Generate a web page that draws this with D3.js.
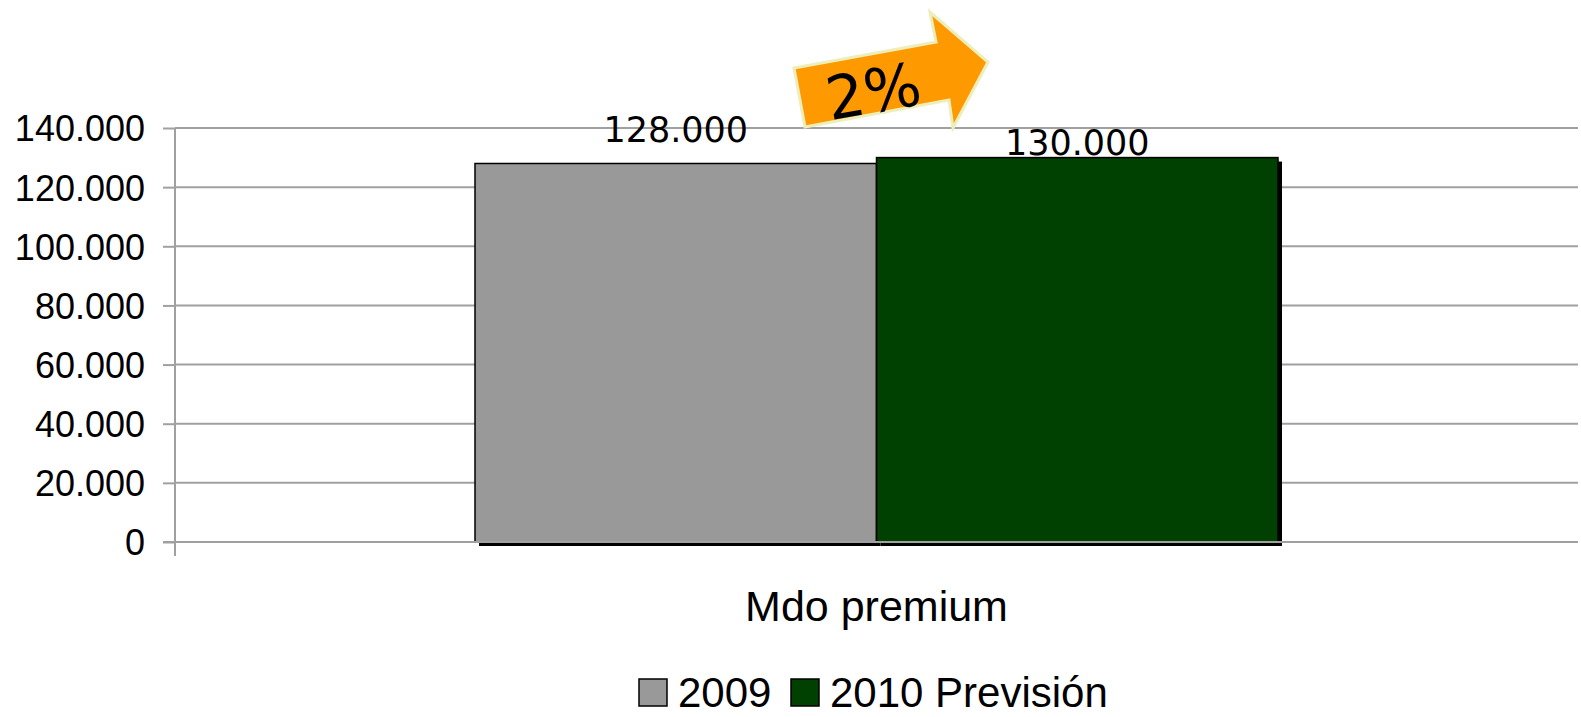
<!DOCTYPE html>
<html>
<head>
<meta charset="utf-8">
<script src="https://d3js.org/d3.v7.min.js"></script>
<style>
  html, body { margin: 0; padding: 0; background: #fff; overflow: hidden; }
  svg { display: block; }
</style>
</head>
<body>
<div id="chart"></div>
<script>

// data
var categories = ["Mdo premium"];
var seriesNames = ["2009", "2010 Previsión"];
var seriesColors = ["#999999", "#004000"];
var values2009 = [128000];
var values2010 = [130000];
var yTicks = [0, 20000, 40000, 60000, 80000, 100000, 120000, 140000];
var growthLabel = "2%";

var width = 1581, height = 717;
var plotLeft = 175, plotRight = 1578, plotTop = 128, plotBottom = 542;

var fmt = function (d) { return d3.format(",")(d).replace(/,/g, "."); };

var svg = d3.select("#chart").append("svg")
    .attr("width", width)
    .attr("height", height);

var y = d3.scaleLinear().domain([0, 140000]).range([plotBottom, plotTop]);
var x0 = d3.scaleBand().domain(categories).range([plotLeft, plotRight]).paddingInner(0).paddingOuter(0.3736);
var x1 = d3.scaleBand().domain(seriesNames).range([0, x0.bandwidth()]);

// gridlines
svg.append("g").selectAll("line")
    .data(yTicks)
    .enter().append("line")
    .attr("x1", plotLeft).attr("x2", plotRight)
    .attr("y1", function (d) { return y(d); })
    .attr("y2", function (d) { return y(d); })
    .attr("stroke", "#a0a0a0")
    .attr("stroke-width", 2);

// y axis
var yAxis = d3.axisLeft(y).tickValues(yTicks).tickFormat(fmt).tickSize(12).tickPadding(18);
var gy = svg.append("g")
    .attr("transform", "translate(" + plotLeft + ",0)")
    .call(yAxis);
gy.select(".domain").remove();
gy.selectAll(".tick line").attr("stroke", "#a0a0a0").attr("stroke-width", 2);
gy.selectAll(".tick text")
    .attr("font-family", "Liberation Sans, Arial, sans-serif")
    .attr("font-size", "36px")
    .attr("dy", "0.36em")
    .attr("fill", "#000");
svg.append("line")
    .attr("x1", plotLeft).attr("x2", plotLeft)
    .attr("y1", plotTop).attr("y2", plotBottom + 14)
    .attr("stroke", "#a0a0a0").attr("stroke-width", 2);

// bars
var rows = categories.map(function (c, i) {
  return { cat: c, vals: [values2009[i], values2010[i]] };
});

var groups = svg.selectAll(".grp")
    .data(rows)
    .enter().append("g")
    .attr("class", "grp")
    .attr("transform", function (d) { return "translate(" + x0(d.cat) + ",0)"; });

var barData = function (d) {
  return d.vals.map(function (v, j) { return { name: seriesNames[j], value: v, color: seriesColors[j] }; });
};

// shadows
groups.selectAll(".shadow")
    .data(barData)
    .enter().append("rect")
    .attr("class", "shadow")
    .attr("x", function (d) { return x1(d.name) + 4; })
    .attr("y", function (d) { return y(d.value) + 4; })
    .attr("width", x1.bandwidth())
    .attr("height", function (d) { return plotBottom - y(d.value); })
    .attr("fill", "#000");

groups.selectAll(".bar")
    .data(barData)
    .enter().append("rect")
    .attr("class", "bar")
    .attr("x", function (d) { return x1(d.name); })
    .attr("y", function (d) { return y(d.value); })
    .attr("width", x1.bandwidth())
    .attr("height", function (d) { return plotBottom - y(d.value); })
    .attr("fill", function (d) { return d.color; })
    .attr("stroke", "#000")
    .attr("stroke-width", 1.5);

// value labels
groups.selectAll(".val")
    .data(barData)
    .enter().append("text")
    .attr("class", "val")
    .attr("x", function (d) { return x1(d.name) + x1.bandwidth() / 2; })
    .attr("y", function (d, j) { return y(d.value) - (j === 0 ? 21 : 3); })
    .attr("text-anchor", "middle")
    .attr("font-family", "DejaVu Sans, sans-serif")
    .attr("font-size", "35px")
    .attr("fill", "#000")
    .text(function (d) { return fmt(d.value); });

// baseline along the bars' bottom
svg.append("line")
    .attr("x1", plotLeft - 12).attr("x2", plotRight)
    .attr("y1", plotBottom).attr("y2", plotBottom)
    .attr("stroke", "#a0a0a0").attr("stroke-width", 2);

// category label
svg.selectAll(".cat")
    .data(categories)
    .enter().append("text")
    .attr("x", function (d) { return x0(d) + x0.bandwidth() / 2; })
    .attr("y", 621)
    .attr("text-anchor", "middle")
    .attr("font-family", "Liberation Sans, Arial, sans-serif")
    .attr("font-size", "43px")
    .attr("fill", "#000")
    .text(function (d) { return d; });

// legend
var legend = svg.append("g").attr("transform", "translate(638,678)");
var legX = [0, 152];
seriesNames.forEach(function (n, i) {
  var g = legend.append("g").attr("transform", "translate(" + legX[i] + ",0)");
  g.append("rect")
    .attr("x", 1).attr("y", 1)
    .attr("width", 28).attr("height", 27)
    .attr("fill", seriesColors[i])
    .attr("stroke", "#000").attr("stroke-width", 1.5);
  g.append("text")
    .attr("x", 40).attr("y", 29)
    .attr("font-family", "Liberation Sans, Arial, sans-serif")
    .attr("font-size", "42px")
    .attr("fill", "#000")
    .text(n);
});

// growth arrow
var arrowPts = [[794, 68], [936, 42], [930, 12], [988, 62], [953, 128], [949, 100], [805, 127]];
svg.append("polygon")
    .attr("points", arrowPts.map(function (p) { return p.join(","); }).join(" "))
    .attr("fill", "#ff9900")
    .attr("stroke", "#eeeebb")
    .attr("stroke-width", 3)
    .attr("stroke-linejoin", "miter");

svg.append("text")
    .attr("transform", "translate(877,112) rotate(-10)")
    .attr("text-anchor", "middle")
    .attr("font-family", "DejaVu Sans, sans-serif")
    .attr("font-size", "60px")
    .attr("fill", "#000")
    .text(growthLabel);

</script>
</body>
</html>
